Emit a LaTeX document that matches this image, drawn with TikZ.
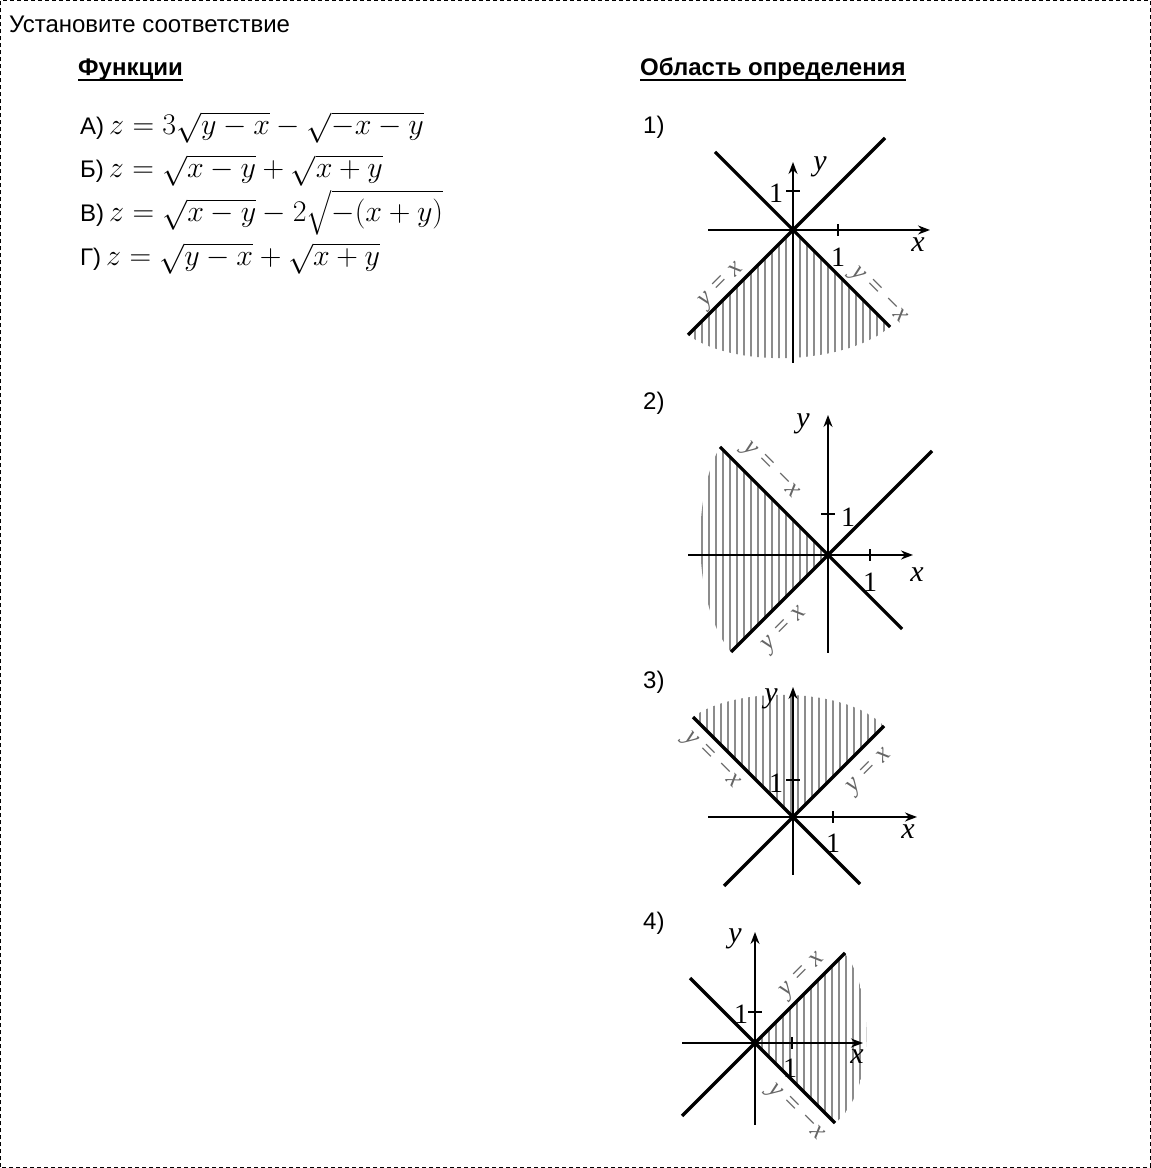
\RequirePackage{fix-cm}
\documentclass[tikz,border=0pt]{standalone}
\usepackage{amsmath}
\usepackage[no-math]{fontspec}
\setmainfont{Liberation Sans}
\newfontfamily\graphfont{Liberation Serif}
\usetikzlibrary{positioning, arrows.meta}

\begin{document}
\begin{tikzpicture}[
x=1pt, y=1pt,
txt/.style={anchor=base west, inner sep=0pt, font=\fontsize{24}{28}\selectfont},
head/.style={anchor=base west, inner sep=0pt, font=\fontsize{24}{28}\selectfont\bfseries},
formula/.style={anchor=base west, inner sep=0pt, text height=22pt, text depth=8pt, font=\fontsize{30}{34}\selectfont},
axis/.style={line width=1.6pt, -{Stealth[length=12pt, width=9pt]}},
diag/.style={line width=3.2pt},
hatch/.style={draw=black!45, line width=2.5pt},
tickl/.style={inner sep=1pt, font=\fontsize{28}{28}\selectfont\graphfont},
axl/.style={inner sep=1pt, font=\fontsize{30}{30}\selectfont\graphfont\itshape},
linelbl/.style={inner sep=0pt, text=black!60, font=\fontsize{26}{26}\selectfont\graphfont\itshape}
]
\useasboundingbox (0,0) rectangle (1151,1168);
\draw[line width=1.4pt, dash pattern=on 4pt off 3pt] (0.7,0.7) rectangle (1150.3,1167.3);

% Texts
\node[txt] (task) at (9,1135) {Установите соответствие};
\node[head] (funcs) at (78,1092) {Функции};
\node[head] (domains) at (640,1092) {Область определения};
\draw[line width=1.4pt] ([yshift=-4pt]funcs.base west) -- ([yshift=-4pt]funcs.base east);
\draw[line width=1.4pt] ([yshift=-4pt]domains.base west) -- ([yshift=-4pt]domains.base east);

% Formulas
\node[formula] (fa) at (80,1033) {{\fontsize{24}{28}\selectfont А)}$\,z=3\sqrt{y-x}-\sqrt{-x-y}$};
\node[formula] (fb) at (80,990) {{\fontsize{24}{28}\selectfont Б)}$\,z=\sqrt{x-y}+\sqrt{x+y}$};
\node[formula] (fv) at (80,946) {{\fontsize{24}{28}\selectfont В)}$\,z=\sqrt{x-y}-2\sqrt{-(x+y)}$};
\node[formula] (fg) at (80,902) {{\fontsize{24}{28}\selectfont Г)}$\,z=\sqrt{y-x}+\sqrt{x+y}$};

% Numbers
\node[txt] (n1) at (643,1034) {1)};
\node[txt] (n2) at (643,758) {2)};
\node[txt] (n3) at (643,479) {3)};
\node[txt] (n4) at (643,238) {4)};

% Graph 1
\begin{scope}[shift={(793,938)}]
  \begin{scope}
    \clip (0,0) -- (-105,-105) .. controls (-60,-138) and (50,-136) .. (97,-97) -- cycle;
    \foreach \x in {-105,-98,...,98} \draw[hatch] (\x,0) -- (\x,-140);
  \end{scope}
  \draw[diag] (-78,78) -- (97,-97);
  \draw[diag] (-105,-105) -- (92,92);
  \draw[axis] (-85,0) -- (137,0);
  \draw[axis] (0,-133) -- (0,68);
  \draw[line width=1.6pt] (45,-6) -- (45,6);
  \draw[line width=1.6pt] (-7,39) -- (7,39);
  \node[axl] (g1y) at (27,63) {y};
  \node[axl] (g1x) at (125,-15) {x};
  \node[tickl] (g1one) at (-17,37) {1};
  \node[tickl] (g1onex) at (45,-27) {1};
  \node[linelbl, rotate=45] (g1a) at (-71,-56) {y = x};
  \node[linelbl, rotate=-45] (g1b) at (85,-66) {y = −x};
\end{scope}

% Graph 2
\begin{scope}[shift={(828,613)}]
  \begin{scope}
    \clip (0,0) -- (-108,108) .. controls (-136,60) and (-136,-50) .. (-97,-97) -- cycle;
    \foreach \x in {-133,-126,...,0} \draw[hatch] (\x,-110) -- (\x,110);
  \end{scope}
  \draw[diag] (-108,108) -- (74,-74);
  \draw[diag] (-97,-97) -- (104,104);
  \draw[axis] (-140,0) -- (85,0);
  \draw[axis] (0,-98) -- (0,140);
  \draw[line width=1.6pt] (42,-6) -- (42,6);
  \draw[line width=1.6pt] (-7,41) -- (7,41);
  \node[axl] (g2y) at (-25,131) {y};
  \node[axl] (g2x) at (89,-20) {x};
  \node[tickl] (g2one) at (20,38) {1};
  \node[tickl] (g2onex) at (42,-27) {1};
  \node[linelbl, rotate=-45] (g2b) at (-58,84) {y = −x};
  \node[linelbl, rotate=45] (g2a) at (-43,-75) {y = x};
\end{scope}

% Graph 3
\begin{scope}[shift={(793,351)}]
  \begin{scope}
    \clip (0,0) -- (-100,100) .. controls (-60,130) and (50,132) .. (91,91) -- cycle;
    \foreach \x in {-100,-93,...,92} \draw[hatch] (\x,0) -- (\x,135);
  \end{scope}
  \draw[diag] (-100,100) -- (67,-67);
  \draw[diag] (-69,-69) -- (91,91);
  \draw[axis] (-85,0) -- (124,0);
  \draw[axis] (0,-58) -- (0,130);
  \draw[line width=1.6pt] (40,-6) -- (40,6);
  \draw[line width=1.6pt] (-7,37) -- (7,37);
  \node[axl] (g3y) at (-22,118) {y};
  \node[axl] (g3x) at (115,-15) {x};
  \node[tickl] (g3one) at (-17,34) {1};
  \node[tickl] (g3onex) at (40,-26) {1};
  \node[linelbl, rotate=-45] (g3b) at (-82,56) {y = −x};
  \node[linelbl, rotate=45] (g3a) at (77,45) {y = x};
\end{scope}

% Graph 4
\begin{scope}[shift={(755,125)}]
  \begin{scope}
    \clip (0,0) -- (90,90) .. controls (120,50) and (120,-50) .. (80,-80) -- cycle;
    \foreach \x in {0,7,...,112} \draw[hatch] (\x,-95) -- (\x,95);
  \end{scope}
  \draw[diag] (-65,65) -- (80,-80);
  \draw[diag] (-73,-73) -- (90,90);
  \draw[axis] (-73,0) -- (108,0);
  \draw[axis] (0,-82) -- (0,111);
  \draw[line width=1.6pt] (37,-6) -- (37,6);
  \draw[line width=1.6pt] (-7,31) -- (7,31);
  \node[axl] (g4y) at (-20,104) {y};
  \node[axl] (g4x) at (102,-14) {x};
  \node[tickl] (g4one) at (-14,29) {1};
  \node[tickl] (g4onex) at (35,-25) {1};
  \node[linelbl, rotate=45] (g4a) at (48,67) {y = x};
  \node[linelbl, rotate=-45] (g4b) at (40,-70) {y = −x};
\end{scope}
\end{tikzpicture}
\end{document}
